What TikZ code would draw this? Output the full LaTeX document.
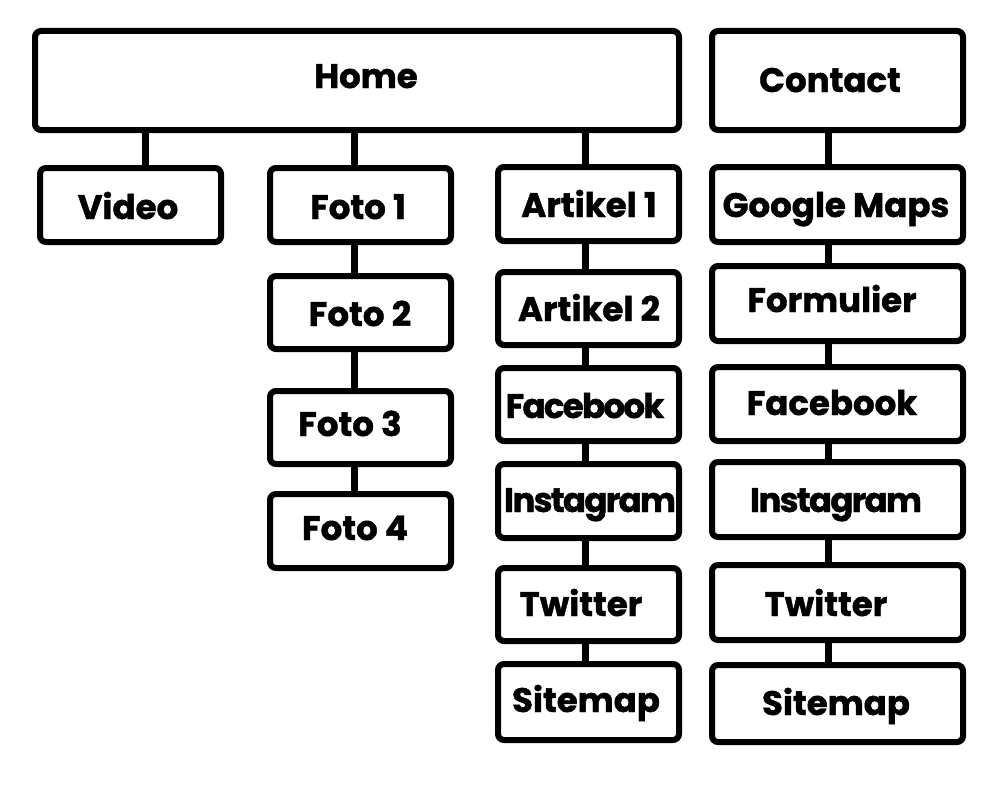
\documentclass[tikz,border=0pt]{standalone}
\usepackage{fontspec}
\setmainfont{Poppins}[BoldFeatures={FakeBold=1.2}]
\tikzset{
  box/.style={draw=black, line width=6pt, rounded corners=6pt, fill=white, inner sep=0pt},
  lbl/.style={anchor=base, inner sep=0pt, font=\fontsize{34}{34}\selectfont\bfseries},
  conn/.style={line width=7pt}
}
\newcommand{\tight}[1]{{\addfontfeature{LetterSpace=-5}#1}}
\newcommand{\bx}[8]{%
  \node[box, minimum width=#4-#2, minimum height=#5-#3] (#1) at ({(#2+#4)/2},{(#3+#5)/2}) {};
  \node[lbl] (#1t) at (#6,#7) {#8};
}
\begin{document}
\begin{tikzpicture}[x=1pt,y=-1pt]
\useasboundingbox (0,0) rectangle (1000,800);
\coordinate (hv) at (145,130);
\coordinate (hf) at (354,130);
\coordinate (ha) at (585,130);
\bx{home}{35}{31}{679}{130}{366}{88}{Home}
\bx{contact}{712}{31}{963}{130}{830}{92}{Contact}
\bx{video}{40}{168}{221}{242}{128}{219}{Video}
\bx{f1}{270}{168}{451}{242}{358}{219}{Foto 1}
\bx{f2}{270}{276}{451}{349}{360}{326}{Foto 2}
\bx{f3}{270}{391}{451}{464}{350}{436}{Foto 3}
\bx{f4}{270}{494}{451}{568}{355}{540}{Foto 4}
\bx{a1}{498}{167}{679}{241}{589}{217}{Artikel 1}
\bx{a2}{498}{272}{679}{345}{589}{321}{Artikel 2}
\bx{a3}{498}{368}{679}{441}{585}{418}{\tight{Facebook}}
\bx{a4}{498}{464}{679}{538}{590}{512}{\tight{Instagram}}
\bx{a5}{498}{568}{679}{641}{581}{616}{Twitter}
\bx{a6}{498}{664}{679}{740}{586}{712}{Sitemap}
\bx{c1}{712}{167}{963}{242}{836}{217}{Google Maps}
\bx{c2}{712}{266}{963}{341}{832}{312}{Formulier}
\bx{c3}{712}{367}{963}{441}{832}{415}{Facebook}
\bx{c4}{712}{462}{963}{537}{836}{512}{\tight{Instagram}}
\bx{c5}{712}{565}{963}{640}{826}{616}{Twitter}
\bx{c6}{712}{665}{963}{742}{836}{715}{Sitemap}
% connectors
\draw[conn] (hv) -- (video.north -| hv);
\draw[conn] (hf) -- (f1.north -| hf);
\draw[conn] (ha) -- (a1.north -| ha);
\draw[conn] (contact.south -| 828,0) -- (c1.north -| 828,0);
\draw[conn] (f1.south -| 354,0) -- (f2.north -| 354,0);
\draw[conn] (f2.south -| 354,0) -- (f3.north -| 354,0);
\draw[conn] (f3.south -| 354,0) -- (f4.north -| 354,0);
\draw[conn] (a1.south -| 585,0) -- (a2.north -| 585,0);
\draw[conn] (a2.south -| 585,0) -- (a3.north -| 585,0);
\draw[conn] (a3.south -| 585,0) -- (a4.north -| 585,0);
\draw[conn] (a4.south -| 585,0) -- (a5.north -| 585,0);
\draw[conn] (a5.south -| 585,0) -- (a6.north -| 585,0);
\draw[conn] (c1.south -| 828,0) -- (c2.north -| 828,0);
\draw[conn] (c2.south -| 828,0) -- (c3.north -| 828,0);
\draw[conn] (c3.south -| 828,0) -- (c4.north -| 828,0);
\draw[conn] (c4.south -| 828,0) -- (c5.north -| 828,0);
\draw[conn] (c5.south -| 828,0) -- (c6.north -| 828,0);
\end{tikzpicture}
\end{document}
